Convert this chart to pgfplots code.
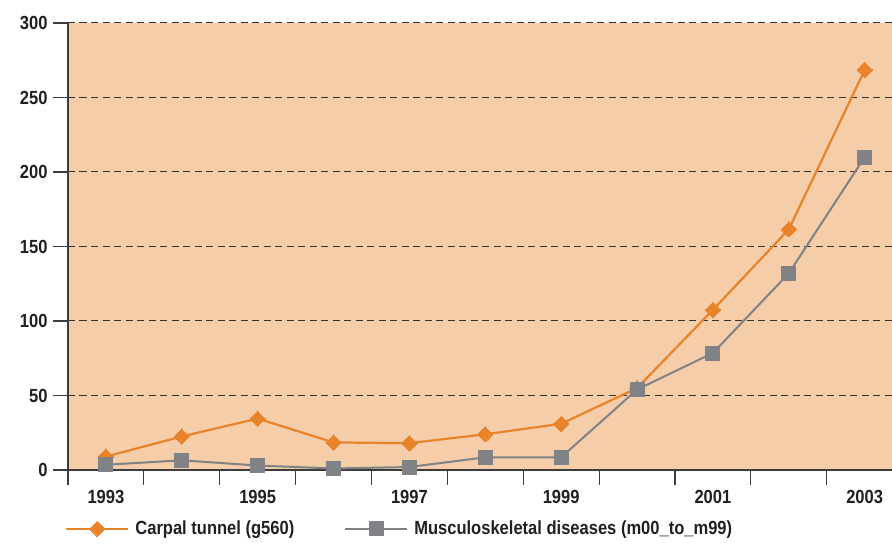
\documentclass[border=0pt]{standalone}
\usepackage{pgfplots}
\pgfplotsset{compat=1.18}
\usepackage{fontspec}
\setmainfont{Liberation Sans}[FakeStretch=0.87]
\usetikzlibrary{calc}
\definecolor{bgc}{HTML}{F5CDA9}
\definecolor{orng}{HTML}{E8832A}
\definecolor{gry}{HTML}{808285}
\definecolor{txt}{HTML}{231F20}
\definecolor{axc}{HTML}{3C3C3C}
\begin{document}
\begin{tikzpicture}
\begin{axis}[
  scale only axis, width=824pt, height=447pt,
  xmin=-0.5, xmax=10.36, ymin=0, ymax=300,
  axis lines*=left,
  axis line style={draw=axc, line width=1.4pt},
  axis background/.style={fill=bgc},
  tick align=outside, tick pos=left,
  major tick length=15pt, minor tick length=15pt,
  ytick={0,50,...,300},
  xtick={0,...,10},
  xticklabels={1993,,1995,,1997,,1999,,2001,,2003},
  minor xtick={-0.5,0.5,...,9.5},
  major x tick style={draw=none},
  minor x tick style={draw=axc, line width=1.2pt},
  major y tick style={draw=axc, line width=1.2pt},
  ymajorgrids,
  grid style={draw=black!80, line width=1pt, dash pattern=on 7pt off 4.5pt},
  /pgf/number format/assume math mode=true,
  ticklabel style={font=\fontsize{19}{21}\selectfont\bfseries, text=txt},
  yticklabel style={xshift=-2pt},
  xticklabel style={yshift=-2pt},
  legend columns=2,
  legend style={at={(rel axis cs:0,0)}, anchor=north west, xshift=-6pt, yshift=-47pt,
    draw=none, fill=none, font=\fontsize{19}{21}\selectfont\bfseries, text=txt,
    /tikz/every even column/.append style={column sep=48pt},
    /tikz/every odd column/.append style={column sep=4pt}},
  legend image code/.code={%
    \draw[#1, mark repeat=2, mark phase=2] plot coordinates {(0pt,0pt) (31pt,0pt) (62pt,0pt)};},
]
\addplot[orng, line width=2.2pt, mark=square*, mark size=5.4pt, mark options={solid, rotate=45, line width=0pt, fill=orng, draw=orng}]
coordinates {(0,9) (1,22.5) (2,34.5) (3,18.5) (4,18) (5,24) (6,31) (7,55) (8,107.5) (9,161.5) (10,268.5)};
\addlegendentry{Carpal tunnel (g560)}
\addplot[gry, line width=2pt, mark=square*, mark size=7pt, mark options={solid, line width=0pt, fill=gry, draw=gry}]
coordinates {(0,3.5) (1,6.5) (2,3) (3,1) (4,2) (5,8.5) (6,8.5) (7,54) (8,78.5) (9,132) (10,210)};
\addlegendentry{Musculoskeletal diseases (m00\_to\_m99)}
\coordinate (SW) at (rel axis cs:0,0);
\coordinate (NE) at (rel axis cs:1,1);
\end{axis}
\pgfresetboundingbox
\path[use as bounding box] ($(SW)+(-68pt,-75pt)$) rectangle ($(NE)+(0pt,23pt)$);
\end{tikzpicture}
\end{document}
